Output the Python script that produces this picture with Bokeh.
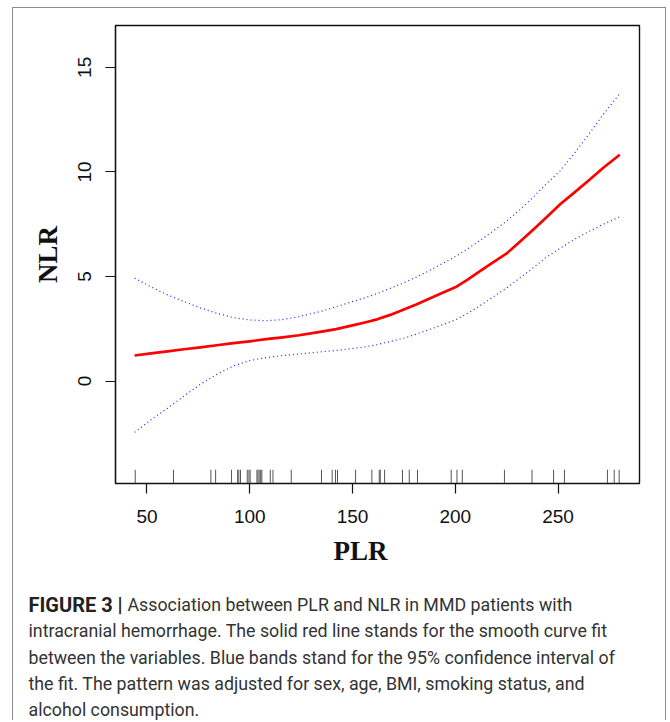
from bokeh.plotting import figure
from bokeh.layouts import column
from bokeh.models import Range1d, FixedTicker, Label, ColumnDataSource
from bokeh.embed import file_html
from bokeh.resources import INLINE

# ---- data ----
plr = [44, 52, 60, 68, 76, 84, 92, 100, 108, 116, 124, 135, 142, 150, 156, 162, 168,
       175, 181, 187, 193, 200, 206, 212, 218, 225, 231, 238, 244, 251, 258, 265, 272, 280]
nlr_fit = [1.22, 1.32, 1.42, 1.52, 1.61, 1.71, 1.81, 1.90, 2.00, 2.09, 2.19, 2.36, 2.48,
           2.66, 2.80, 2.95, 3.15, 3.42, 3.66, 3.92, 4.18, 4.48, 4.85, 5.25, 5.65, 6.10,
           6.62, 7.25, 7.80, 8.45, 9.02, 9.60, 10.20, 10.82]
nlr_upper = [4.92, 4.50, 4.12, 3.80, 3.50, 3.24, 3.03, 2.92, 2.88, 2.94, 3.08, 3.34, 3.55,
             3.80, 3.98, 4.18, 4.42, 4.70, 4.97, 5.26, 5.58, 5.95, 6.32, 6.72, 7.15, 7.65,
             8.15, 8.80, 9.40, 10.05, 10.90, 11.80, 12.75, 13.75]
nlr_lower = [-2.45, -1.85, -1.30, -0.72, -0.15, 0.32, 0.72, 0.98, 1.12, 1.22, 1.29, 1.40,
             1.46, 1.55, 1.63, 1.74, 1.88, 2.05, 2.24, 2.45, 2.66, 2.92, 3.24, 3.60, 4.00,
             4.45, 4.90, 5.42, 5.90, 6.35, 6.78, 7.15, 7.50, 7.85]
rug_plr = [44.3, 62.9, 81.1, 83.4, 91.1, 94.1, 94.7, 95.5, 98.8, 99.6, 100.2, 103.5,
           104.0, 104.6, 105.3, 105.9, 110.0, 111.3, 120.2, 134.9, 140.1, 141.7, 142.7,
           151.5, 159.4, 163.0, 163.5, 165.6, 174.3, 177.6, 181.6, 198.0, 200.8, 203.4,
           223.9, 237.3, 247.8, 253.1, 274.0, 277.3, 279.7]
x_ticks = [50, 100, 150, 200, 250]
y_ticks = [0, 5, 10, 15]

x_title = "PLR"
y_title = "NLR"
caption_bold = "FIGURE 3 |"
caption_lines = [
    "Association between PLR and NLR in MMD patients with",
    "intracranial hemorrhage. The solid red line stands for the smooth curve fit",
    "between the variables. Blue bands stand for the 95% confidence interval of",
    "the fit. The pattern was adjusted for sex, age, BMI, smoking status, and",
    "alcohol consumption.",
]

# ---- layout (pixels) ----
OX, OY = 13, 8            # inner origin of the bordered box in the window
W = 652
FL, FT, FW, FH = 102, 17, 524, 458
H_MAIN = 524
H_CAP = 188
x0, x1 = 34.7, 289.6
y0, y1 = -4.9, 17.0

p = figure(width=W, height=H_MAIN, frame_width=FW, frame_height=FH,
           min_border_left=FL, min_border_right=W - FL - FW, min_border_top=FT,
           min_border_bottom=H_MAIN - FT - FH,
           x_range=Range1d(x0, x1), y_range=Range1d(y0, y1),
           output_backend="svg", toolbar_location=None)
p.frame_align = False
p.grid.visible = False
p.outline_line_color = "#111111"
p.outline_line_width = 1.4
p.background_fill_color = "white"
p.border_fill_color = "white"

for ax in (p.xaxis[0], p.yaxis[0]):
    ax.axis_line_color = "#111111"
    ax.axis_line_width = 1.2
    ax.major_tick_line_color = "#111111"
    ax.major_tick_line_width = 1.2
    ax.major_tick_out = 10
    ax.major_tick_in = 0
    ax.minor_tick_out = 0
    ax.minor_tick_in = 0
    ax.major_label_text_font = "Liberation Sans"
    ax.major_label_text_font_size = "19px"
    ax.major_label_text_color = "#111111"

p.xaxis.ticker = FixedTicker(ticks=x_ticks)
p.yaxis.ticker = FixedTicker(ticks=y_ticks)
p.xaxis.major_label_standoff = 16
p.yaxis.major_label_standoff = 14
p.yaxis.major_label_orientation = "vertical"
p.yaxis.axis_label = y_title
p.yaxis.axis_label_text_font = "Liberation Serif"
p.yaxis.axis_label_text_font_style = "bold"
p.yaxis.axis_label_text_font_size = "27px"
p.yaxis.axis_label_text_color = "#111111"
p.yaxis.axis_label_standoff = 13

# curves
p.line(plr, nlr_fit, line_color="#ff0000", line_width=2.7, line_join="round")
p.line(plr, nlr_upper, line_color="#2020ff", line_width=1.2, line_dash="1 3")
p.line(plr, nlr_lower, line_color="#2020ff", line_width=1.2, line_dash="1 3")

# rug
rug_len = 0.03 * (y1 - y0)
rug = ColumnDataSource(dict(x=rug_plr, y0=[y0] * len(rug_plr), y1=[y0 + rug_len] * len(rug_plr)))
p.segment(x0="x", y0="y0", x1="x", y1="y1", source=rug, line_color="#555555", line_width=1)

# ---- lower panel: x title and caption (pixel coordinates, y downward) ----
cap = figure(width=W, height=H_CAP, frame_width=W, frame_height=H_CAP,
             x_range=Range1d(0, W), y_range=Range1d(H_CAP, 0),
             x_axis_type=None, y_axis_type=None,
             min_border=0, output_backend="svg", toolbar_location=None)
cap.frame_align = False
cap.grid.visible = False
cap.outline_line_color = None
cap.background_fill_color = "white"
cap.border_fill_color = "white"

top_cap = OY + H_MAIN
cap.add_layout(Label(x=360 - OX, y=550 - top_cap, text=x_title,
                     text_font="Liberation Serif", text_font_style="bold",
                     text_font_size="27px", text_align="center", text_baseline="middle",
                     text_color="#111111"))

cap_py = [604, 630, 657, 683, 709]
cap.add_layout(Label(x=28 - OX, y=cap_py[0] - top_cap, text=caption_bold,
                     text_font="Roboto", text_font_style="bold", text_font_size="20px",
                     text_baseline="middle", text_color="#222222"))
for i, line in enumerate(caption_lines):
    cap.add_layout(Label(x=(127 if i == 0 else 28) - OX, y=cap_py[i] - top_cap, text=line,
                         text_font="Roboto", text_font_size="17.8px",
                         text_baseline="middle", text_color="#333333"))

layout = column(p, cap, spacing=0, margin=(OY - 1, 0, 0, OX - 1),
                styles={"border-top": "1px solid #8c8c8c",
                        "border-left": "1px solid #8c8c8c",
                        "border-right": "1px solid #8c8c8c"})

open("out.html", "w").write(file_html(layout, INLINE))
